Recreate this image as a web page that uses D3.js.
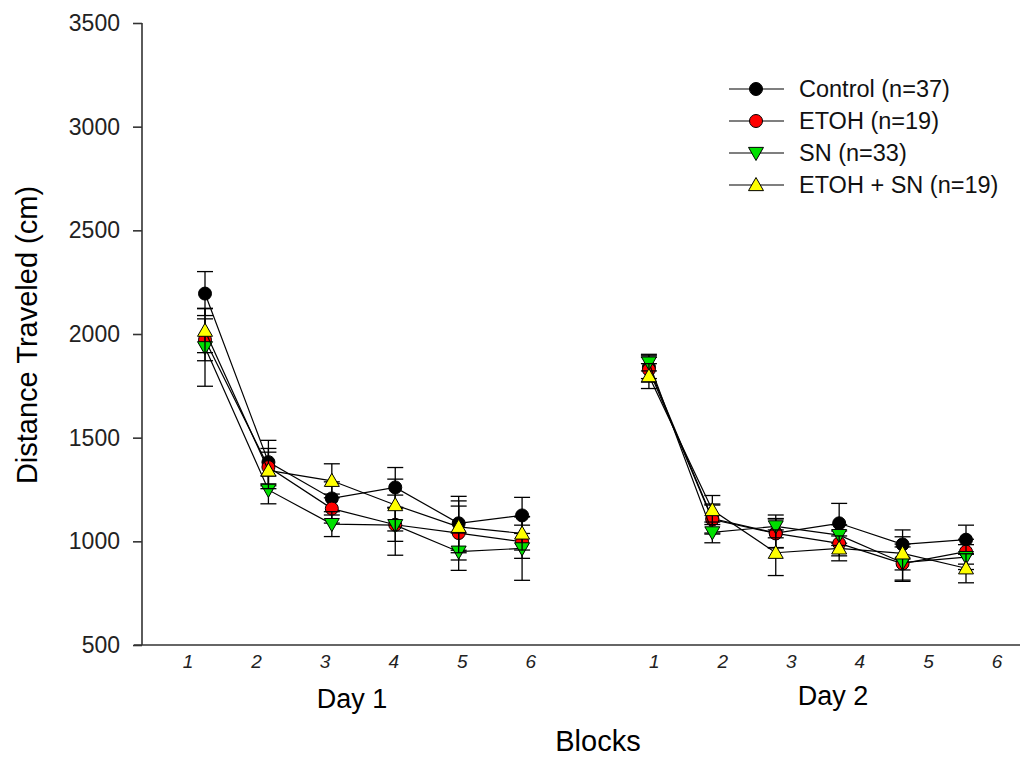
<!DOCTYPE html>
<html>
<head>
<meta charset="utf-8">
<script src="https://cdn.jsdelivr.net/npm/d3@7"></script>
<style>
  html, body { margin: 0; padding: 0; background: #fff; }
  svg { display: block; }
</style>
</head>
<body>
<svg id="chart" width="1020" height="759"></svg>
<script>
// Distance travelled per 5-min block, two test days, four treatment groups
const days = ["Day 1", "Day 2"];
const blocks = ["1", "2", "3", "4", "5", "6"];
const yTicks = [500, 1000, 1500, 2000, 2500, 3000, 3500];

const seriesNames = ["Control (n=37)", "ETOH (n=19)", "SN (n=33)", "ETOH + SN (n=19)"];
const seriesColors = ["#000000", "#ff0000", "#00e000", "#ffff00"];
const seriesShapes = ["circle", "circle", "triangleDown", "triangleUp"];

// means, Day 1 then Day 2
const controlMean = [[2195, 1382, 1207, 1260, 1087, 1125], [1840, 1110, 1040, 1087, 985, 1008]];
const etohMean    = [[1972, 1358, 1158, 1080, 1040, 998],  [1828, 1105, 1038, 990, 893, 950]];
const snMean      = [[1936, 1248, 1083, 1078, 950, 966],   [1862, 1043, 1072, 1030, 897, 924]];
const etohSnMean  = [[2016, 1342, 1292, 1175, 1070, 1038], [1797, 1151, 945, 966, 942, 870]];

// standard errors, Day 1 then Day 2
const controlSem = [[106, 105, 80, 96, 130, 87], [55, 70, 70, 96, 70, 70]];
const etohSem    = [[101, 90, 70, 80, 130, 80],  [60, 70, 70, 60, 80, 60]];
const snSem      = [[188, 67, 60, 145, 90, 154], [40, 50, 55, 50, 90, 60]];
const etohSnSem  = [[106, 88, 82, 125, 125, 80], [60, 70, 110, 60, 80, 70]];

const means = [controlMean, etohMean, snMean, etohSnMean];
const sems = [controlSem, etohSem, snSem, etohSnSem];

const svg = d3.select("#chart");
const axisColor = "#333";
const font = "'Liberation Sans', Arial, sans-serif";
const narrow = "'Liberation Sans Narrow', 'Liberation Sans', Arial, sans-serif";

// y scale
const y = d3.scaleLinear().domain([500, 3500]).range([645, 23]);

// points: continuous block index, Day 2 starts after a gap
const dayOffset = 7;
const xPoint = d3.scaleLinear().domain([0, 12]).range([205, 966]);
// tick labels sit on their own slightly wider spacing
const labelOffset = 6.8;
const xLabel = d3.scaleLinear().domain([0, 11.8]).range([188, 997]);

// y axis
const yAxis = d3.axisLeft(y).tickValues(yTicks).tickSize(9).tickPadding(13).tickFormat(d3.format("d"));
const gy = svg.append("g").attr("transform", "translate(142,0)").call(yAxis);
gy.select(".domain").attr("stroke", axisColor).attr("stroke-width", 1.6).attr("d", "M0,23V645");
gy.selectAll(".tick line").attr("stroke", axisColor).attr("stroke-width", 1.6);
gy.selectAll(".tick text").attr("fill", "#222").style("font-family", font).style("font-size", "23px");

// x axis baseline
svg.append("line")
  .attr("x1", 134).attr("x2", 1020).attr("y1", 645).attr("y2", 645)
  .attr("stroke", axisColor).attr("stroke-width", 1.6);

// block labels
days.forEach((day, di) => {
  svg.append("g").selectAll("text")
    .data(blocks)
    .join("text")
    .attr("x", (b, i) => xLabel(i + di * labelOffset))
    .attr("y", 668)
    .attr("text-anchor", "middle")
    .attr("fill", "#222")
    .style("font-family", narrow)
    .style("font-style", "italic")
    .style("font-size", "19px")
    .text(b => b);
});

// day labels
svg.append("text").attr("x", 352).attr("y", 708).attr("text-anchor", "middle")
  .style("font-family", font).style("font-size", "27px").text(days[0]);
svg.append("text").attr("x", 833).attr("y", 705).attr("text-anchor", "middle")
  .style("font-family", font).style("font-size", "27px").text(days[1]);

// axis titles
svg.append("text").attr("x", 598).attr("y", 751).attr("text-anchor", "middle")
  .style("font-family", font).style("font-size", "29px").text("Blocks");
svg.append("text")
  .attr("transform", "translate(37,335) rotate(-90)")
  .attr("text-anchor", "middle")
  .style("font-family", font).style("font-size", "29px")
  .text("Distance Traveled (cm)");

// marker drawing
function drawMarker(g, shape, color, cx, cy) {
  if (shape === "circle") {
    g.append("circle").attr("cx", cx).attr("cy", cy).attr("r", 6.5)
      .attr("fill", color).attr("stroke", "#000").attr("stroke-width", 1);
  } else {
    const s = 7.5;
    const pts = shape === "triangleUp"
      ? [[cx, cy - s], [cx + s, cy + s * 0.75], [cx - s, cy + s * 0.75]]
      : [[cx, cy + s], [cx + s, cy - s * 0.75], [cx - s, cy - s * 0.75]];
    g.append("polygon").attr("points", pts.map(p => p.join(",")).join(" "))
      .attr("fill", color).attr("stroke", "#000").attr("stroke-width", 1);
  }
}

const line = d3.line().x(d => xPoint(d.i)).y(d => y(d.v));
const capHalf = 8;

seriesNames.forEach((name, si) => {
  const g = svg.append("g");
  days.forEach((day, di) => {
    const pts = means[si][di].map((v, bi) => ({ i: bi + di * dayOffset, v, e: sems[si][di][bi] }));
    // error bars
    pts.forEach(p => {
      const cx = xPoint(p.i);
      const yt = y(p.v + p.e), yb = y(p.v - p.e);
      g.append("line").attr("x1", cx).attr("x2", cx).attr("y1", yt).attr("y2", yb)
        .attr("stroke", "#000").attr("stroke-width", 1.3);
      [yt, yb].forEach(yy => g.append("line")
        .attr("x1", cx - capHalf).attr("x2", cx + capHalf).attr("y1", yy).attr("y2", yy)
        .attr("stroke", "#000").attr("stroke-width", 1.3));
    });
    g.append("path").datum(pts).attr("d", line)
      .attr("fill", "none").attr("stroke", "#000").attr("stroke-width", 1.2);
    pts.forEach(p => drawMarker(g, seriesShapes[si], seriesColors[si], xPoint(p.i), y(p.v)));
  });
});

// legend
const legendRows = [89, 121, 153, 185];
seriesNames.forEach((name, si) => {
  const ly = legendRows[si];
  const lg = svg.append("g");
  lg.append("line").attr("x1", 729).attr("x2", 784).attr("y1", ly).attr("y2", ly)
    .attr("stroke", "#000").attr("stroke-width", 1.2);
  drawMarker(lg, seriesShapes[si], seriesColors[si], 756, ly);
  lg.append("text").attr("x", 799).attr("y", ly + 8)
    .style("font-family", font).style("font-size", "23.5px").attr("fill", "#111")
    .text(name);
});
</script>
</body>
</html>
